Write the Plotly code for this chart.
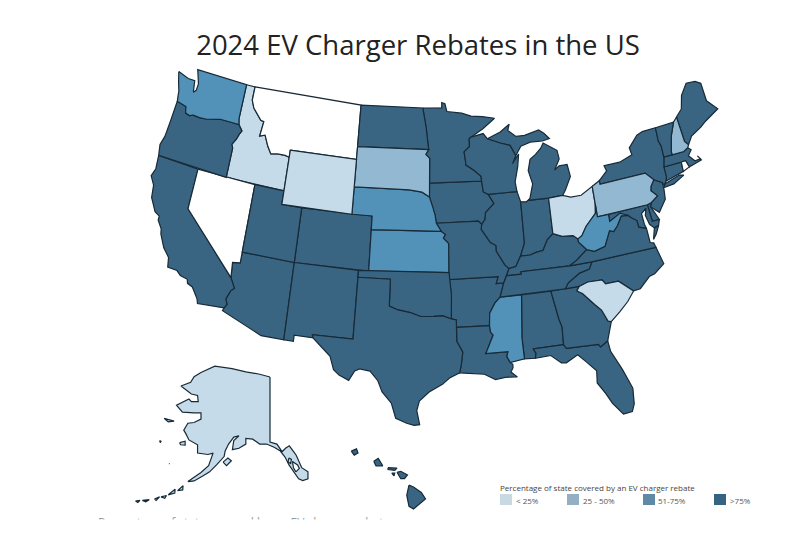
import numpy as np
import plotly.graph_objects as go

# The plotly basemap is fetched from a CDN, so outlines are approximate lon/lat traced by hand
state_codes = ["AL","AZ","AR","CA","CO","CT","DE","FL","GA","ID","IL","IN","IA","KS","KY","LA","ME","MD","MA","MI",
               "MN","MS","MO","MT","NE","NV","NH","NJ","NM","NY","NC","ND","OH","OK","OR","PA","RI","SC","SD","TN",
               "TX","UT","VT","VA","WA","WV","WI","WY","AK","HI"]
state_levels = [4,4,4,4,4,4,4,4,4,1,4,4,4,3,4,4,4,4,4,4,
                4,3,4,0,3,0,2,4,4,4,4,4,1,4,4,2,0,1,2,4,
                4,4,4,4,3,3,4,1,1,4]

level_colors = ["#ffffff", "#c5dbe9", "#93b8d1", "#5292b9", "#3a6582"]
legend_labels = ["< 25%", "25 - 50%", "51-75%", ">75%"]
legend_colors = ["#c9d9e4", "#93afc5", "#5f89a5", "#356482"]
legend_title = "Percentage of state covered by an EV charger rebate"

outlines = {
    "WA": [[(-124.73,48.38),(-123.5,48.13),(-122.75,48.15),(-122.55,47.3),(-122.3,47.5),(-122.25,48.0),(-122.5,48.5),(-122.76,49.0),(-117.03,49.0),(-117.04,46.42),(-116.92,46.0),(-118.98,46.0),(-119.3,45.93),(-120.5,45.7),(-121.2,45.65),(-121.9,45.68),(-122.3,45.55),(-122.76,45.65),(-122.9,46.1),(-123.4,46.2),(-123.95,46.25),(-124.05,46.7),(-124.1,47.0),(-124.4,47.6)]],
    "OR": [[(-123.95,46.25),(-123.4,46.2),(-122.9,46.1),(-122.76,45.65),(-122.3,45.55),(-121.9,45.68),(-121.2,45.65),(-120.5,45.7),(-119.3,45.93),(-118.98,46.0),(-116.92,46.0),(-116.46,45.6),(-116.67,45.3),(-116.85,44.9),(-117.2,44.45),(-117.03,44.2),(-117.03,42.0),(-124.21,42.0),(-124.4,42.8),(-124.15,43.5),(-124.05,44.7)]],
    "CA": [[(-124.21,42.0),(-120.0,42.0),(-120.0,39.0),(-114.63,35.0),(-114.14,34.3),(-114.43,34.05),(-114.72,33.4),(-114.52,33.03),(-114.72,32.72),(-117.12,32.53),(-117.25,32.85),(-117.9,33.6),(-118.4,33.75),(-118.5,34.03),(-119.2,34.15),(-119.6,34.42),(-120.5,34.45),(-120.65,35.15),(-121.3,35.7),(-121.9,36.6),(-122.0,36.96),(-122.5,37.5),(-122.5,37.8),(-123.0,38.0),(-123.7,38.9),(-123.85,39.8),(-124.35,40.4),(-124.1,41.0)]],
    "NV": [[(-120.0,42.0),(-114.04,42.0),(-114.04,36.2),(-114.75,36.1),(-114.63,35.0),(-120.0,39.0)]],
    "ID": [[(-117.03,49.0),(-116.05,49.0),(-116.05,48.0),(-115.7,47.45),(-114.7,46.7),(-114.35,46.65),(-114.5,45.55),(-113.95,45.7),(-113.45,44.95),(-113.0,44.45),(-112.3,44.55),(-111.5,44.55),(-111.05,44.48),(-111.05,42.0),(-117.03,42.0),(-117.03,44.2),(-117.2,44.45),(-116.85,44.9),(-116.67,45.3),(-116.46,45.6),(-116.92,46.0),(-117.04,46.42)]],
    "MT": [[(-116.05,49.0),(-104.05,49.0),(-104.05,45.0),(-111.05,45.0),(-111.05,44.48),(-111.5,44.55),(-112.3,44.55),(-113.0,44.45),(-113.45,44.95),(-113.95,45.7),(-114.5,45.55),(-114.35,46.65),(-114.7,46.7),(-115.7,47.45),(-116.05,48.0)]],
    "WY": [[(-111.05,45.0),(-104.05,45.0),(-104.05,41.0),(-111.05,41.0)]],
    "UT": [[(-114.04,42.0),(-111.05,42.0),(-111.05,41.0),(-109.05,41.0),(-109.05,37.0),(-114.04,37.0)]],
    "CO": [[(-109.05,41.0),(-102.05,41.0),(-102.05,37.0),(-109.05,37.0)]],
    "AZ": [[(-114.04,37.0),(-109.05,37.0),(-109.05,31.33),(-111.07,31.33),(-114.81,32.5),(-114.72,32.72),(-114.52,33.03),(-114.72,33.4),(-114.43,34.05),(-114.14,34.3),(-114.63,35.0),(-114.75,36.1),(-114.04,36.2)]],
    "NM": [[(-109.05,37.0),(-103.0,37.0),(-103.04,32.0),(-106.62,32.0),(-106.53,31.78),(-108.2,31.78),(-108.2,31.33),(-109.05,31.33)]],
    "ND": [[(-104.05,49.0),(-97.23,49.0),(-96.85,47.6),(-96.56,45.94),(-104.05,45.94)]],
    "SD": [[(-104.05,45.94),(-96.56,45.94),(-96.85,45.6),(-96.45,45.3),(-96.45,43.5),(-96.45,42.49),(-97.2,42.85),(-98.5,43.0),(-104.05,43.0)]],
    "NE": [[(-104.05,43.0),(-98.5,43.0),(-97.2,42.85),(-96.45,42.49),(-96.1,41.7),(-95.9,41.2),(-95.77,40.59),(-95.31,40.0),(-102.05,40.0),(-102.05,41.0),(-104.05,41.0)]],
    "KS": [[(-102.05,40.0),(-95.31,40.0),(-94.9,39.75),(-95.1,39.5),(-94.61,39.11),(-94.62,37.0),(-102.05,37.0)]],
    "OK": [[(-103.0,37.0),(-94.62,37.0),(-94.43,35.4),(-94.48,33.64),(-95.2,33.88),(-96.0,33.85),(-97.2,33.85),(-98.1,34.13),(-99.2,34.3),(-100.0,34.56),(-100.0,36.5),(-103.0,36.5)]],
    "TX": [[(-106.62,32.0),(-103.04,32.0),(-103.0,36.5),(-100.0,36.5),(-100.0,34.56),(-99.2,34.3),(-98.1,34.13),(-97.2,33.85),(-96.0,33.85),(-95.2,33.88),(-94.48,33.64),(-94.04,33.55),(-94.04,32.0),(-93.55,31.2),(-93.7,30.3),(-93.85,29.7),(-94.7,29.35),(-95.3,28.9),(-96.4,28.35),(-97.2,27.7),(-97.4,27.0),(-97.15,25.96),(-97.6,25.9),(-98.2,26.05),(-99.1,26.4),(-99.5,27.5),(-100.3,28.3),(-100.7,29.1),(-101.4,29.77),(-102.3,29.88),(-102.7,29.7),(-103.15,28.98),(-104.0,29.3),(-104.5,29.65),(-104.9,30.6),(-106.0,31.4),(-106.53,31.78)]],
    "MN": [[(-97.23,49.0),(-95.15,49.0),(-95.15,49.38),(-94.8,49.3),(-94.6,48.72),(-93.0,48.55),(-92.0,48.3),(-90.8,48.2),(-89.5,48.0),(-90.8,47.3),(-92.1,46.75),(-92.29,46.66),(-92.29,46.07),(-92.87,45.7),(-92.75,45.0),(-92.75,44.75),(-91.9,44.3),(-91.25,43.85),(-91.22,43.5),(-96.45,43.5),(-96.45,45.3),(-96.85,45.6),(-96.56,45.94),(-96.85,47.6)]],
    "IA": [[(-96.45,43.5),(-91.22,43.5),(-91.1,42.7),(-90.64,42.5),(-90.15,41.8),(-91.0,41.2),(-91.1,40.7),(-91.42,40.38),(-91.73,40.61),(-95.77,40.59),(-95.9,41.2),(-96.1,41.7),(-96.45,42.49)]],
    "MO": [[(-95.77,40.59),(-91.73,40.61),(-91.42,40.38),(-91.5,40.0),(-90.7,39.0),(-90.2,38.75),(-90.2,38.35),(-89.5,37.3),(-89.15,37.0),(-89.4,36.5),(-89.7,36.0),(-90.37,36.0),(-90.15,36.5),(-94.62,36.5),(-94.62,37.0),(-94.61,39.11),(-95.1,39.5),(-94.9,39.75),(-95.31,40.0)]],
    "AR": [[(-94.62,36.5),(-90.15,36.5),(-90.37,36.0),(-89.7,36.0),(-90.1,35.0),(-90.6,34.6),(-91.1,33.9),(-91.17,33.0),(-94.04,33.02),(-94.04,33.55),(-94.48,33.64),(-94.43,35.4)]],
    "LA": [[(-94.04,33.02),(-91.17,33.0),(-91.1,32.5),(-90.9,32.3),(-91.6,31.0),(-89.73,31.0),(-89.85,30.65),(-89.6,30.2),(-89.4,30.05),(-89.4,29.8),(-89.6,29.5),(-89.1,29.1),(-90.1,29.15),(-90.9,29.05),(-91.8,29.5),(-92.3,29.55),(-93.85,29.7),(-93.7,30.3),(-93.55,31.2),(-94.04,32.0)]],
    "MS": [[(-90.1,35.0),(-88.2,35.0),(-88.47,31.9),(-88.4,30.35),(-89.6,30.2),(-89.85,30.65),(-89.73,31.0),(-91.6,31.0),(-90.9,32.3),(-91.1,32.5),(-91.17,33.0),(-91.1,33.9),(-90.6,34.6)]],
    "AL": [[(-88.2,35.0),(-85.6,35.0),(-85.18,32.87),(-85.0,32.3),(-85.05,31.0),(-87.6,31.0),(-87.4,30.65),(-87.5,30.3),(-88.4,30.35),(-88.47,31.9)]],
    "GA": [[(-85.6,35.0),(-83.1,35.0),(-83.35,34.7),(-82.9,34.45),(-82.0,33.5),(-81.5,33.0),(-81.1,32.1),(-80.85,32.03),(-81.4,30.7),(-82.05,30.36),(-82.2,30.57),(-84.86,30.7),(-85.05,31.0),(-85.0,32.3),(-85.18,32.87)]],
    "FL": [[(-87.6,31.0),(-85.05,31.0),(-84.86,30.7),(-82.2,30.57),(-82.05,30.36),(-81.4,30.7),(-81.3,29.9),(-80.6,28.4),(-80.05,26.9),(-80.15,25.75),(-80.4,25.2),(-81.1,25.15),(-81.8,26.1),(-82.2,26.9),(-82.75,27.8),(-82.65,28.7),(-83.4,29.5),(-84.0,30.1),(-85.0,29.65),(-85.4,29.7),(-86.2,30.35),(-87.5,30.3),(-87.4,30.65)]],
    "SC": [[(-83.35,34.7),(-83.1,35.0),(-82.3,35.2),(-81.05,35.15),(-80.8,34.82),(-79.67,34.8),(-78.55,33.86),(-79.2,33.2),(-80.0,32.6),(-80.85,32.03),(-81.1,32.1),(-81.5,33.0),(-82.0,33.5),(-82.9,34.45)]],
    "NC": [[(-84.32,35.0),(-83.1,35.0),(-82.3,35.2),(-81.05,35.15),(-80.8,34.82),(-79.67,34.8),(-78.55,33.86),(-77.95,33.9),(-77.0,34.6),(-76.5,34.7),(-75.55,35.25),(-75.9,36.55),(-81.68,36.59),(-82.0,36.1),(-82.9,35.95),(-84.0,35.4)]],
    "TN": [[(-90.1,35.0),(-84.32,35.0),(-84.0,35.4),(-82.9,35.95),(-82.0,36.1),(-81.68,36.59),(-83.68,36.6),(-88.07,36.68),(-88.07,36.5),(-89.4,36.5),(-89.7,36.0)]],
    "KY": [[(-89.4,36.5),(-88.07,36.5),(-88.07,36.68),(-83.68,36.6),(-83.0,36.9),(-81.97,37.54),(-82.6,38.2),(-82.6,38.42),(-83.0,38.72),(-84.0,38.8),(-84.82,39.1),(-85.4,38.72),(-85.9,38.0),(-86.5,37.95),(-87.1,37.8),(-88.0,37.8),(-88.5,37.1),(-89.15,37.0)]],
    "VA": [[(-83.68,36.6),(-81.68,36.59),(-75.9,36.55),(-76.0,36.9),(-76.3,37.0),(-76.3,37.6),(-76.35,38.05),(-77.0,38.3),(-77.05,38.8),(-77.5,39.1),(-77.75,39.32),(-78.35,39.4),(-78.87,38.77),(-79.3,38.42),(-79.65,38.55),(-80.3,37.5),(-81.3,37.3),(-81.97,37.54),(-83.0,36.9)],
           [(-75.95,37.15),(-75.65,37.95),(-75.24,38.03),(-75.6,37.5)]],
    "WV": [[(-82.6,38.2),(-81.97,37.54),(-81.3,37.3),(-80.3,37.5),(-79.65,38.55),(-79.3,38.42),(-78.87,38.77),(-78.35,39.4),(-77.75,39.32),(-78.4,39.62),(-79.48,39.2),(-79.48,39.72),(-80.52,39.72),(-80.52,40.64),(-80.65,40.0),(-81.7,39.2),(-82.2,38.6),(-82.6,38.42)]],
    "OH": [[(-84.82,41.7),(-83.45,41.73),(-82.7,41.5),(-81.7,41.5),(-80.52,41.98),(-80.52,40.64),(-80.65,40.0),(-81.7,39.2),(-82.2,38.6),(-82.6,38.42),(-83.0,38.72),(-84.0,38.8),(-84.82,39.1)]],
    "IN": [[(-87.53,41.72),(-87.0,41.67),(-86.8,41.76),(-84.82,41.7),(-84.82,39.1),(-85.4,38.72),(-85.9,38.0),(-86.5,37.95),(-87.1,37.8),(-88.0,37.8),(-87.53,38.7),(-87.53,39.35)]],
    "IL": [[(-90.64,42.5),(-87.8,42.49),(-87.53,41.72),(-87.53,39.35),(-87.53,38.7),(-88.0,37.8),(-88.5,37.1),(-89.15,37.0),(-89.5,37.3),(-90.2,38.35),(-90.2,38.75),(-90.7,39.0),(-91.5,40.0),(-91.42,40.38),(-91.1,40.7),(-91.0,41.2),(-90.15,41.8)]],
    "WI": [[(-92.29,46.66),(-92.1,46.75),(-90.8,46.95),(-90.4,46.55),(-89.1,46.15),(-88.1,45.9),(-87.6,45.1),(-88.0,44.55),(-87.3,45.2),(-87.5,44.3),(-87.9,43.2),(-87.8,42.49),(-90.64,42.5),(-91.1,42.7),(-91.22,43.5),(-91.25,43.85),(-91.9,44.3),(-92.75,44.75),(-92.75,45.0),(-92.87,45.7),(-92.29,46.07)]],
    "MI": [[(-86.8,41.76),(-84.82,41.7),(-83.45,41.73),(-83.1,42.1),(-82.45,43.0),(-82.6,43.9),(-83.4,43.9),(-83.9,43.65),(-83.3,44.4),(-83.4,45.05),(-84.7,45.75),(-85.0,45.4),(-85.6,45.0),(-86.2,44.7),(-86.5,43.9),(-86.2,42.9),(-86.6,41.9)],
           [(-90.4,46.55),(-89.1,46.15),(-88.1,45.9),(-87.6,45.1),(-87.0,45.75),(-86.0,45.95),(-84.75,45.9),(-84.0,46.0),(-84.5,46.45),(-85.0,46.75),(-86.5,46.5),(-87.4,46.5),(-88.2,47.0),(-88.0,47.45),(-89.0,46.95)]],
    "PA": [[(-80.52,41.98),(-79.76,42.27),(-79.76,42.0),(-75.35,42.0),(-74.7,41.36),(-75.1,40.95),(-75.2,40.65),(-74.72,40.15),(-75.4,39.8),(-75.8,39.72),(-80.52,39.72)]],
    "NY": [[(-79.76,42.0),(-79.76,42.27),(-78.9,42.85),(-79.05,43.27),(-77.5,43.25),(-76.2,43.55),(-76.3,44.1),(-75.3,44.85),(-74.7,45.0),(-73.35,45.0),(-73.4,44.0),(-73.25,43.6),(-73.27,42.75),(-73.5,42.05),(-73.5,41.3),(-73.65,41.0),(-73.9,40.75),(-74.0,41.0),(-74.7,41.36),(-75.35,42.0)],
           [(-74.0,40.6),(-73.75,40.85),(-72.3,41.15),(-71.9,41.05),(-73.0,40.65)]],
    "NJ": [[(-74.7,41.36),(-74.0,41.0),(-74.0,40.45),(-74.1,39.75),(-74.9,38.95),(-75.55,39.5),(-75.4,39.8),(-74.72,40.15),(-75.2,40.65),(-75.1,40.95)]],
    "DE": [[(-75.8,39.72),(-75.4,39.8),(-75.55,39.5),(-75.05,38.45),(-75.7,38.46)]],
    "MD": [[(-79.48,39.72),(-75.8,39.72),(-75.7,38.46),(-75.05,38.45),(-75.24,38.03),(-75.65,37.95),(-76.0,38.3),(-76.2,39.0),(-76.0,39.5),(-76.5,39.2),(-76.45,38.4),(-76.35,38.05),(-77.0,38.3),(-77.05,38.8),(-77.5,39.1),(-77.75,39.32),(-78.35,39.4),(-78.4,39.62),(-79.48,39.2)]],
    "CT": [[(-73.5,42.05),(-71.8,42.02),(-71.85,41.32),(-73.65,41.0),(-73.5,41.3)]],
    "RI": [[(-71.8,42.02),(-71.38,42.02),(-71.2,41.5),(-71.85,41.32)]],
    "MA": [[(-73.5,42.05),(-73.27,42.75),(-71.3,42.7),(-70.85,42.88),(-70.6,42.65),(-71.0,42.3),(-70.55,41.8),(-70.0,41.8),(-70.2,42.08),(-69.95,41.7),(-71.2,41.5),(-71.38,42.02),(-71.8,42.02)]],
    "VT": [[(-73.35,45.0),(-71.5,45.0),(-72.05,44.1),(-72.45,43.0),(-72.46,42.73),(-73.27,42.75),(-73.25,43.6),(-73.4,44.0)]],
    "NH": [[(-71.5,45.0),(-71.08,45.3),(-70.98,43.4),(-70.7,43.07),(-70.85,42.88),(-71.3,42.7),(-72.46,42.73),(-72.45,43.0),(-72.05,44.1)]],
    "ME": [[(-71.08,45.3),(-70.4,45.75),(-70.0,46.7),(-69.2,47.45),(-68.3,47.35),(-67.8,47.07),(-67.8,45.7),(-67.0,44.85),(-68.5,44.3),(-69.1,44.0),(-70.2,43.6),(-70.7,43.07),(-70.98,43.4)]],
    "AK": [[(-141.0,69.65),(-141.0,60.3),(-139.0,60.0),(-137.5,58.9),(-136.5,59.4),(-135.4,59.75),(-134.0,58.8),(-133.4,58.4),(-131.8,56.6),(-130.0,56.0),(-130.0,55.0),(-131.5,54.75),(-132.7,55.0),(-134.0,56.0),(-135.5,57.0),(-136.6,58.1),(-138.0,59.0),(-139.8,59.55),(-142.0,60.0),(-144.0,60.0),(-146.0,60.7),(-148.0,60.8),(-148.0,60.0),(-150.0,59.4),(-151.9,59.2),(-151.5,60.5),(-150.0,61.2),(-151.5,61.0),(-153.0,60.0),(-154.0,59.0),(-154.3,58.2),(-156.5,57.0),(-158.5,56.0),(-160.5,55.4),(-163.0,54.7),(-164.8,54.6),(-163.0,55.2),(-161.0,55.9),(-158.8,56.9),(-157.5,58.7),(-159.0,58.5),(-162.0,58.7),(-162.0,59.9),(-164.5,60.6),(-165.4,61.5),(-166.0,62.0),(-164.8,63.0),(-163.0,63.1),(-161.0,63.6),(-161.0,64.5),(-163.0,64.5),(-166.4,64.6),(-168.1,65.6),(-164.5,66.5),(-163.8,66.1),(-161.8,66.1),(-162.0,67.0),(-163.8,67.2),(-166.8,68.35),(-164.0,68.9),(-163.0,69.7),(-161.0,70.3),(-157.0,71.2),(-155.0,71.1),(-152.0,70.85),(-148.0,70.4),(-144.0,70.05)],
           [(-154.6,57.4),(-153.2,58.0),(-152.2,57.6),(-153.6,56.9)],
           [(-167.2,60.2),(-165.6,60.4),(-165.6,59.85),(-166.9,59.9)],
           [(-171.7,63.7),(-169.8,63.5),(-168.8,63.3),(-170.5,63.2)],
           [(-173.0,60.5),(-172.6,60.4),(-172.8,60.2)],
           [(-170.3,57.2),(-170.1,57.2),(-170.2,57.1)],
           [(-133.5,56.0),(-132.5,56.5),(-133.0,57.0),(-134.5,57.5),(-134.2,56.6)],
           [(-135.5,58.0),(-134.8,57.8),(-135.0,57.2),(-135.8,57.4)],
           [(-167.8,53.3),(-166.2,54.0),(-166.3,53.4)],
           [(-170.5,52.7),(-168.5,53.5),(-168.6,52.95)],
           [(-172.6,52.4),(-171.0,52.6),(-171.5,52.2)],
           [(-174.5,52.1),(-173.0,52.4),(-174.0,51.9)],
           [(-178.0,51.9),(-176.0,52.0),(-177.0,51.7)],
           [(-180.0,51.8),(-178.7,51.9),(-179.3,51.6)]],
    "HI": [[(-159.75,22.1),(-159.4,22.22),(-159.3,22.0),(-159.55,21.88)],
           [(-158.25,21.55),(-157.95,21.7),(-157.65,21.3),(-158.1,21.3)],
           [(-157.3,21.2),(-156.7,21.17),(-156.85,21.05),(-157.3,21.1)],
           [(-157.05,20.9),(-156.85,20.9),(-156.9,20.75)],
           [(-156.7,20.95),(-156.45,21.0),(-156.0,20.8),(-156.2,20.6),(-156.45,20.6),(-156.6,20.8)],
           [(-155.9,20.25),(-155.6,20.15),(-155.08,19.85),(-154.8,19.5),(-155.6,18.95),(-155.9,19.1),(-156.05,19.7)]],
}


def albers(lons, lats, lon0, lat0, p1, p2):
    # conic equal-area projection on a unit sphere
    lam, phi = np.radians(lons), np.radians(lats)
    s1, s2 = np.sin(np.radians(p1)), np.sin(np.radians(p2))
    n = (s1 + s2) / 2
    c = np.cos(np.radians(p1)) ** 2 + 2 * n * s1
    rho = np.sqrt(c - 2 * n * np.sin(phi)) / n
    rho0 = np.sqrt(c - 2 * n * np.sin(np.radians(lat0))) / n
    theta = n * (lam - np.radians(lon0))
    return rho * np.sin(theta), rho0 - rho * np.cos(theta)


def to_axes(code, ring):
    lons, lats = np.array(ring + ring[:1]).T
    # the two insets are plain lon/lat, only the lower 48 are conic
    if code == "AK":
        return 270 + 3.45 * (lons + 141), 377 + 6.95 * (69.65 - lats)
    if code == "HI":
        return 355 + 15 * (lons + 159.5), 452 + 18.4 * (22.05 - lats)
    x, y = albers(lons, lats, -96, 37.5, 29.5, 45.5)
    # the squared terms bend the map a little more, fitted by eye to state corners
    return 434 + 787 * x + 50 * x ** 2, 266 - 785 * y - 78 * x ** 2 - 10 * x


fig = go.Figure()
for code, level in zip(state_codes, state_levels):
    xs, ys = [], []
    for ring in outlines[code]:
        x, y = to_axes(code, ring)
        xs += list(x) + [None]
        ys += list(y) + [None]
    fig.add_trace(go.Scatter(x=xs, y=ys, mode="lines", fill="toself", fillcolor=level_colors[level],
                             line=dict(color="#172a37", width=1.2), name=code, hoverinfo="name", showlegend=False))

# The caption under the map is cut off in the picture, so a white strip sits over it
fig.add_trace(go.Scatter(x=[98], y=[523.5], mode="text", text=[legend_title], textposition="middle right",
                         textfont=dict(size=12, color="#999999"), hoverinfo="skip", showlegend=False))

legend_x = [500, 567, 643, 714]
label_x = [516, 583, 658, 730]
shapes = [dict(type="rect", x0=90, x1=420, y0=519.5, y1=525, fillcolor="white", line_width=0, layer="above")]
annotations = [dict(x=500, y=487, text=legend_title, showarrow=False, xanchor="left", xshift=-2, font=dict(size=8, color="#444444"))]
for i in range(4):
    shapes.append(dict(type="rect", x0=legend_x[i], x1=legend_x[i] + 12, y0=494, y1=505, fillcolor=legend_colors[i], line_width=0))
    annotations.append(dict(x=label_x[i], y=500, text=legend_labels[i], showarrow=False, xanchor="left", xshift=-2, font=dict(size=8, color="#555555")))

# The page keeps 8px of body margin, so the axes run over the window's own pixels inside it
fig.update_layout(
    title=dict(text="2024 EV Charger Rebates in the US", x=(418 - 8) / 785, xanchor="center", y=1 - (45 - 8) / 517, yanchor="middle",
               font=dict(size=27.5, color="#222222", family="Open Sans")),
    font=dict(family="Open Sans"),
    xaxis=dict(range=[8, 793], visible=False),
    yaxis=dict(range=[525, 8], visible=False),
    width=785,
    height=517,
    margin=dict(l=0, r=0, t=0, b=0),
    plot_bgcolor="white",
    paper_bgcolor="white",
    shapes=shapes,
    annotations=annotations,
)

fig.write_html("out.html")
